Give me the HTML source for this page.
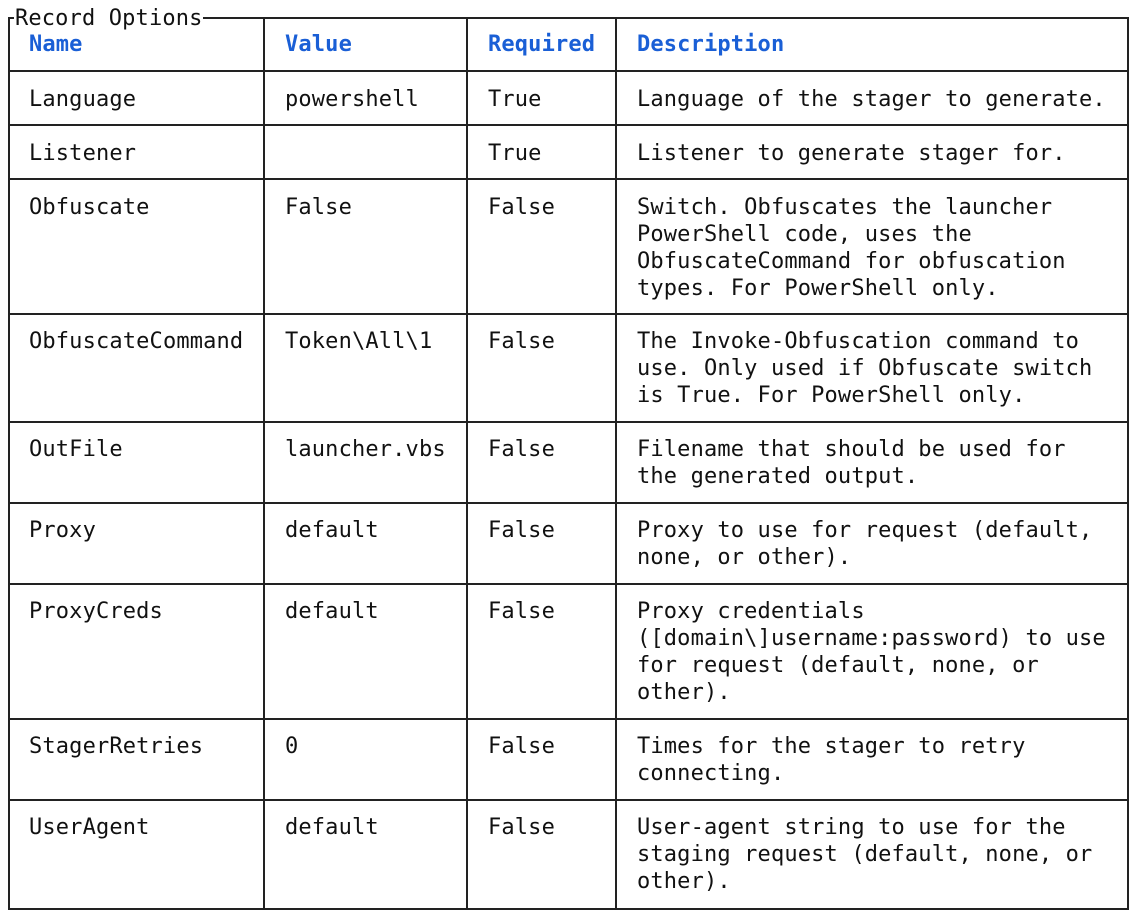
<!DOCTYPE html>
<html><head><style>
body{margin:0;width:1137px;height:917px;background:#fff;position:relative;overflow:hidden;font-family:"DejaVu Sans Mono","Liberation Mono",monospace;font-size:22px;color:#111;letter-spacing:0.15px}
.l{position:absolute;background:#222}
.t{position:absolute;line-height:27px;white-space:pre;margin-top:1px}
.h{color:#1a5fd6;font-weight:bold}
</style></head><body>
<div class="l" style="left:8px;top:17px;width:2px;height:893px"></div>
<div class="l" style="left:1127px;top:17px;width:2px;height:893px"></div>
<div class="l" style="left:8px;top:17px;width:6px;height:2px"></div>
<div class="l" style="left:203px;top:17px;width:926px;height:2px"></div>
<div class="l" style="left:8px;top:908px;width:1121px;height:2px"></div>
<div class="l" style="left:263px;top:17px;width:2px;height:893px"></div>
<div class="l" style="left:466px;top:17px;width:2px;height:893px"></div>
<div class="l" style="left:615px;top:17px;width:2px;height:893px"></div>
<div class="l" style="left:8px;top:70px;width:1121px;height:2px"></div>
<div class="l" style="left:8px;top:124px;width:1121px;height:2px"></div>
<div class="l" style="left:8px;top:178px;width:1121px;height:2px"></div>
<div class="l" style="left:8px;top:313px;width:1121px;height:2px"></div>
<div class="l" style="left:8px;top:421px;width:1121px;height:2px"></div>
<div class="l" style="left:8px;top:502px;width:1121px;height:2px"></div>
<div class="l" style="left:8px;top:583px;width:1121px;height:2px"></div>
<div class="l" style="left:8px;top:718px;width:1121px;height:2px"></div>
<div class="l" style="left:8px;top:799px;width:1121px;height:2px"></div>
<div class="t" style="left:15px;top:4px">Record Options</div>
<div class="t h" style="left:29px;top:30px">Name</div>
<div class="t h" style="left:285px;top:30px">Value</div>
<div class="t h" style="left:488px;top:30px">Required</div>
<div class="t h" style="left:637px;top:30px">Description</div>

<div class="t" style="left:29px;top:85px">Language</div>
<div class="t" style="left:285px;top:85px">powershell</div>
<div class="t" style="left:488px;top:85px">True</div>
<div class="t" style="left:637px;top:85px">Language of the stager to generate.</div>

<div class="t" style="left:29px;top:139px">Listener</div>
<div class="t" style="left:488px;top:139px">True</div>
<div class="t" style="left:637px;top:139px">Listener to generate stager for.</div>

<div class="t" style="left:29px;top:193px">Obfuscate</div>
<div class="t" style="left:285px;top:193px">False</div>
<div class="t" style="left:488px;top:193px">False</div>
<div class="t" style="left:637px;top:193px">Switch. Obfuscates the launcher
PowerShell code, uses the
ObfuscateCommand for obfuscation
types. For PowerShell only.</div>

<div class="t" style="left:29px;top:327px">ObfuscateCommand</div>
<div class="t" style="left:285px;top:327px">Token\All\1</div>
<div class="t" style="left:488px;top:327px">False</div>
<div class="t" style="left:637px;top:327px">The Invoke-Obfuscation command to
use. Only used if Obfuscate switch
is True. For PowerShell only.</div>

<div class="t" style="left:29px;top:435px">OutFile</div>
<div class="t" style="left:285px;top:435px">launcher.vbs</div>
<div class="t" style="left:488px;top:435px">False</div>
<div class="t" style="left:637px;top:435px">Filename that should be used for
the generated output.</div>

<div class="t" style="left:29px;top:516px">Proxy</div>
<div class="t" style="left:285px;top:516px">default</div>
<div class="t" style="left:488px;top:516px">False</div>
<div class="t" style="left:637px;top:516px">Proxy to use for request (default,
none, or other).</div>

<div class="t" style="left:29px;top:597px">ProxyCreds</div>
<div class="t" style="left:285px;top:597px">default</div>
<div class="t" style="left:488px;top:597px">False</div>
<div class="t" style="left:637px;top:597px">Proxy credentials
([domain\]username:password) to use
for request (default, none, or
other).</div>

<div class="t" style="left:29px;top:732px">StagerRetries</div>
<div class="t" style="left:285px;top:732px">0</div>
<div class="t" style="left:488px;top:732px">False</div>
<div class="t" style="left:637px;top:732px">Times for the stager to retry
connecting.</div>

<div class="t" style="left:29px;top:813px">UserAgent</div>
<div class="t" style="left:285px;top:813px">default</div>
<div class="t" style="left:488px;top:813px">False</div>
<div class="t" style="left:637px;top:813px">User-agent string to use for the
staging request (default, none, or
other).</div>
</body></html>
